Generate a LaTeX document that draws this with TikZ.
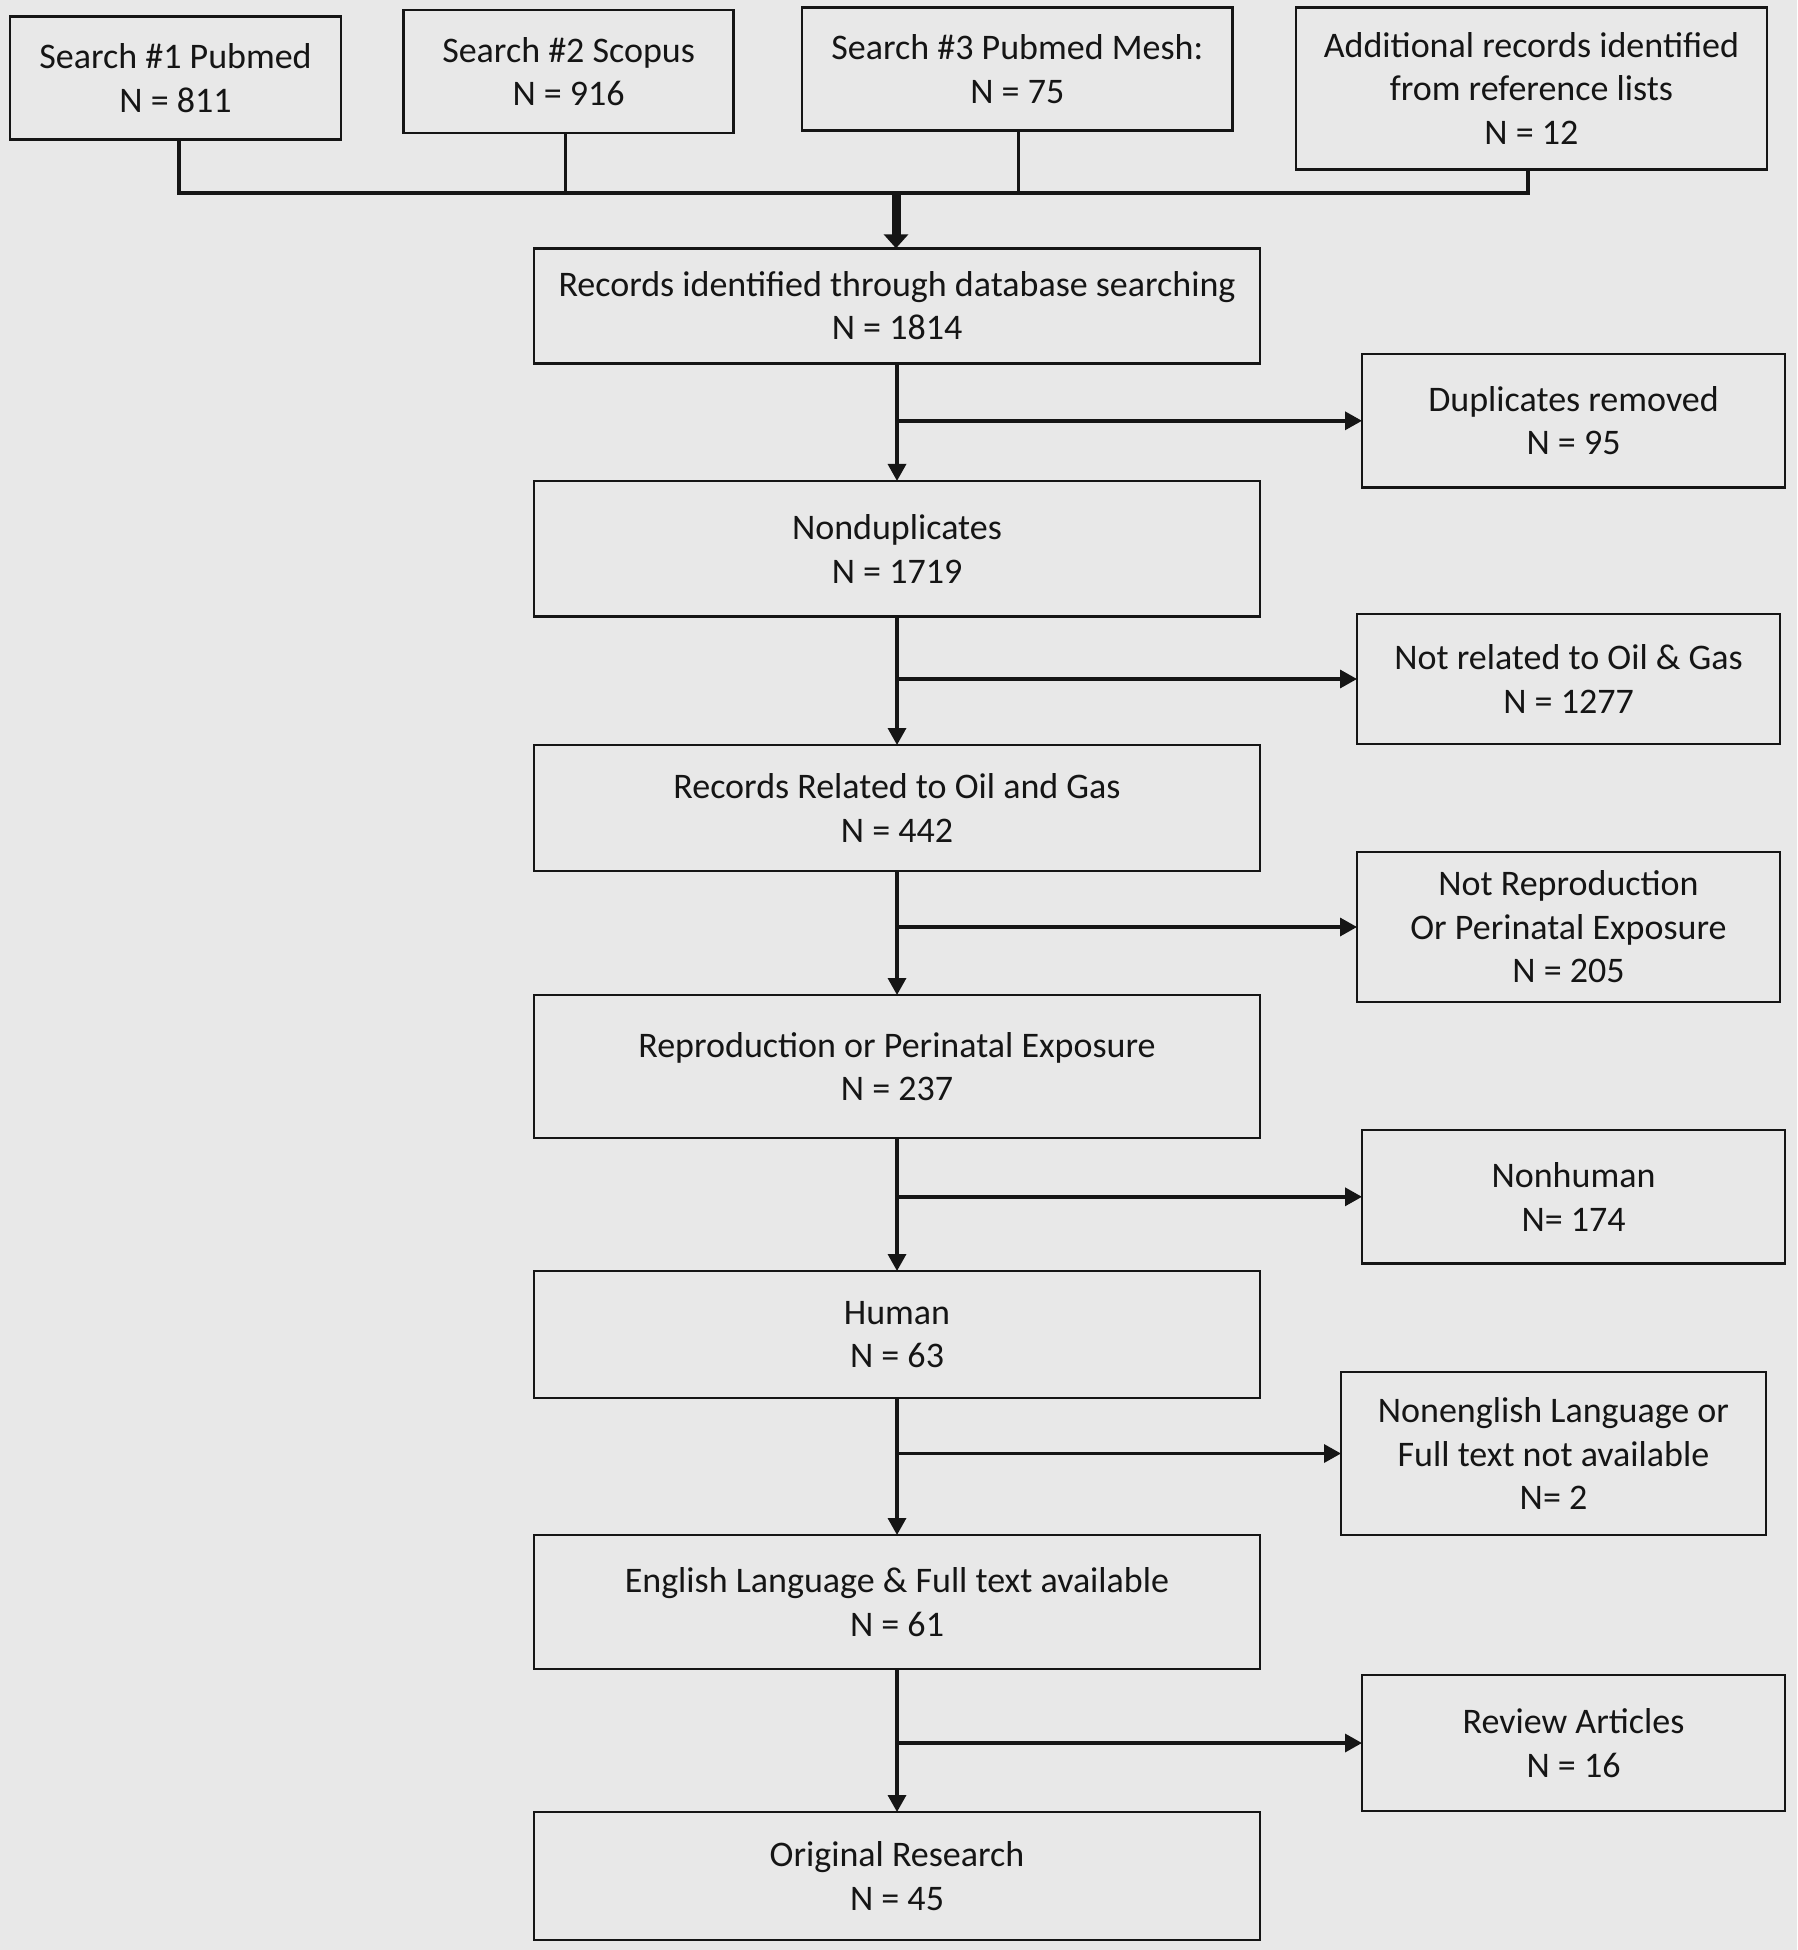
\documentclass[tikz,border=0pt]{standalone}
\usepackage{fontspec}
\setmainfont{Carlito}
\usetikzlibrary{arrows.meta}
\definecolor{bg}{HTML}{E8E8E8}
\definecolor{ink}{HTML}{151515}
\tikzset{
  box/.style={draw=ink, line width=2.8pt, rectangle, inner sep=0pt, outer sep=0pt,
    align=center, text=ink, font=\fontsize{36}{43.5}\selectfont},
  conn/.style={draw=ink, line width=3.4pt},
  arr/.style={conn, -{Triangle[length=17pt,width=18pt]}},
  bigarr/.style={draw=ink, line width=9pt, -{Triangle[length=14pt,width=24pt]}}
}
\begin{document}
\begin{tikzpicture}[x=1pt,y=-1pt]
\fill[bg] (0,0) rectangle (1797,1950);
\useasboundingbox (0,0) rectangle (1797,1950);

% top search boxes
\node[box, minimum width=331pt, minimum height=122.7pt] (s1) at (175.5,78) {Search \#1 Pubmed\\N = 811};
\node[box, minimum width=330pt, minimum height=123pt] (s2) at (568.6,71.5) {Search \#2 Scopus\\N = 916};
\node[box, minimum width=430.6pt, minimum height=123.4pt] (s3) at (1017.3,69) {Search \#3 Pubmed Mesh:\\N = 75};
\node[box, minimum width=471pt, minimum height=162pt] (add) at (1531.4,88.3) {Additional records identified\\from reference lists\\N = 12};

% main column
\node[box, minimum width=726pt, minimum height=115pt] (rec) at (897,305.8) {Records identified through database searching\\N = 1814};
\node[box, minimum width=726pt, minimum height=135.7pt] (nd) at (897,548.8) {Nonduplicates\\N = 1719};
\node[box, minimum width=726pt, minimum height=126pt] (rel) at (897,808) {Records Related to Oil and Gas\\N = 442};
\node[box, minimum width=726pt, minimum height=143pt] (rep) at (897,1066.5) {Reproduction or Perinatal Exposure\\N = 237};
\node[box, minimum width=726pt, minimum height=127pt] (hum) at (897,1334.5) {Human\\N = 63};
\node[box, minimum width=726pt, minimum height=134pt] (eng) at (897,1602) {English Language \& Full text available\\N = 61};
\node[box, minimum width=726pt, minimum height=128pt] (orig) at (897,1876) {Original Research\\N = 45};

% side boxes
\node[box, minimum width=423pt, minimum height=133.5pt] (dup) at (1573.5,420.8) {Duplicates removed\\N = 95};
\node[box, minimum width=423pt, minimum height=130pt] (nrel) at (1568.5,679) {Not related to Oil \& Gas\\N = 1277};
\node[box, minimum width=423pt, minimum height=150pt] (nrep) at (1568.5,927) {Not Reproduction\\Or Perinatal Exposure\\N = 205};
\node[box, minimum width=423pt, minimum height=133.5pt] (nh) at (1573.5,1196.8) {Nonhuman\\N= 174};
\node[box, minimum width=425pt, minimum height=163pt] (neng) at (1553.5,1453.5) {Nonenglish Language or\\Full text not available\\N= 2};
\node[box, minimum width=423pt, minimum height=136pt] (rev) at (1573.5,1743) {Review Articles\\N = 16};

% junction coordinates
\coordinate (j1) at (179,193);
\coordinate (j2) at (565.5,193);
\coordinate (j3) at (1018.6,193);
\coordinate (j4) at (1528,193);
\coordinate (jm) at (896,193);

\draw[conn, line join=miter] (s1.south -| j1) -- (j1) -- (j4) -- (add.south -| j4);
\draw[conn] (s2.south -| j2) -- (j2);
\draw[conn] (s3.south -| j3) -- (j3);
\draw[bigarr] (jm) -- (rec.north -| jm);

% main flow
\draw[arr] (rec.south) -- (nd.north);
\draw[arr] (nd.south) -- (rel.north);
\draw[arr] (rel.south) -- (rep.north);
\draw[arr] (rep.south) -- (hum.north);
\draw[arr] (hum.south) -- (eng.north);
\draw[arr] (eng.south) -- (orig.north);

% branches
\draw[arr] (dup.west -| rec.south) -- (dup.west);
\draw[arr] (nrel.west -| nd.south) -- (nrel.west);
\draw[arr] (nrep.west -| rel.south) -- (nrep.west);
\draw[arr] (nh.west -| rep.south) -- (nh.west);
\draw[arr] (neng.west -| hum.south) -- (neng.west);
\draw[arr] (rev.west -| eng.south) -- (rev.west);
\end{tikzpicture}
\end{document}
